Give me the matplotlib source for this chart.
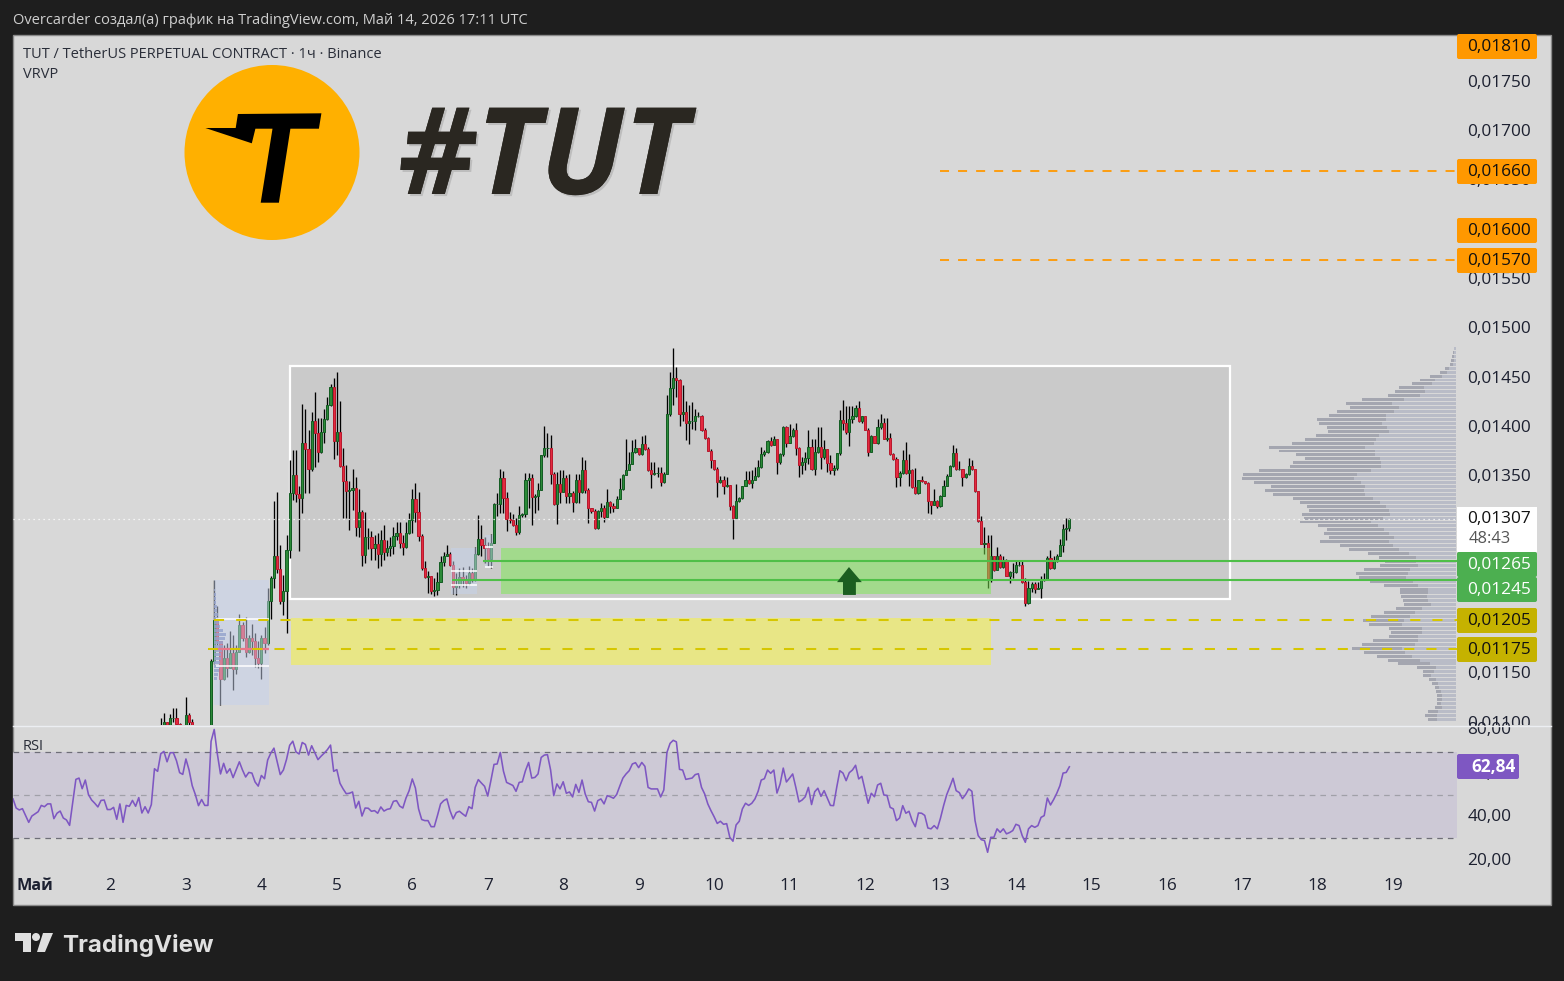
import numpy as np
import matplotlib
matplotlib.use("Agg")
import matplotlib.pyplot as plt
import matplotlib.patheffects as pe
from matplotlib.patches import Rectangle, Ellipse, Polygon, Circle, FancyBboxPatch
from matplotlib.transforms import Bbox, TransformedBbox, ScaledTranslation

plt.rcParams["font.family"] = ["Open Sans", "DejaVu Sans"]

W, H = 1564, 981

# candles, hours since May 1 00:00, prices in 1e-5 USDT, open = previous close
first_hour = 40
close_e5 = [
    1096,1101,1095,1105,1105,1099,1090,1088,1108,1101,
    1095,1090,1088,1085,1082,1080,
    1163,1205,1183,1145,1166,1156,1171,1155,1172,1200,
    1186,1172,1186,1183,1166,1161,1186,1181,1224,1247,
    1269,1256,1224,1234,1276,1333,1352,1332,1328,1384,
    1378,1358,1406,1394,1375,1395,1408,1423,1441,1386,
    1395,1361,1346,1335,1336,1338,1299,1314,1271,1289,
    1289,1278,1282,1272,1286,1274,1278,1280,1290,1293,
    1283,1279,1293,1306,1327,1314,1290,1257,1248,1249,
    1234,1235,1243,1263,1269,1272,1260,1238,1240,1248,
    1245,1242,1252,1245,1272,1287,1281,1278,1266,1283,
    1322,1322,1349,1328,1307,1306,1301,1294,1311,1312,
    1347,1349,1329,1330,1336,1372,1379,1379,1353,1322,
    1343,1334,1349,1330,1333,1324,1347,1334,1357,1336,
    1318,1315,1298,1315,1318,1309,1324,1320,1318,1327,
    1337,1352,1357,1363,1375,1379,1373,1383,1378,1357,
    1353,1354,1354,1345,1353,1414,1440,1450,1448,1414,
    1416,1404,1406,1406,1411,1412,1397,1389,1376,1367,
    1358,1345,1347,1340,1342,1320,1308,1325,1328,1340,
    1347,1344,1347,1351,1360,1373,1375,1386,1382,1388,
    1365,1373,1400,1384,1391,1397,1379,1362,1365,1369,
    1380,1358,1375,1380,1370,1378,1364,1357,1359,1374,
    1407,1404,1395,1408,1412,1420,1406,1411,1397,1375,
    1391,1384,1400,1404,1388,1389,1373,1368,1350,1354,
    1367,1354,1357,1339,1333,1347,1346,1344,1325,1321,
    1325,1320,1330,1340,1351,1361,1374,1358,1358,1350,
    1353,1361,1358,1335,1305,1282,1283,1245,1269,1255,
    1270,1258,1264,1249,1253,1253,1260,1260,1243,1222,
    1237,1241,1236,1237,1245,1246,1267,1257,1264,1270,
    1281,1297,1298,1307,
]
high_e5 = [
    1105,1110,1101,1109,1115,1115,1100,1095,1126,1110,
    1104,1095,1092,1090,1088,1086,
    1165,1245,1219,1183,1179,1181,1193,1189,1179,1211,
    1203,1208,1189,1201,1191,1183,1189,1198,1237,1249,
    1325,1334,1281,1250,1291,1367,1377,1377,1340,1424,
    1419,1397,1416,1436,1409,1409,1419,1431,1444,1450,
    1456,1427,1379,1362,1346,1358,1350,1337,1316,1314,
    1298,1295,1291,1293,1296,1301,1286,1289,1299,1304,
    1304,1291,1304,1313,1337,1344,1334,1292,1264,1254,
    1248,1247,1253,1269,1274,1281,1274,1264,1252,1257,
    1258,1250,1259,1257,1279,1311,1301,1289,1284,1292,
    1323,1333,1358,1356,1334,1314,1312,1308,1320,1313,
    1354,1354,1353,1332,1344,1372,1401,1394,1392,1355,
    1355,1357,1357,1352,1353,1335,1353,1353,1370,1367,
    1338,1318,1317,1316,1323,1321,1337,1325,1323,1330,
    1349,1353,1388,1375,1387,1388,1379,1391,1392,1380,
    1365,1365,1360,1360,1355,1433,1456,1480,1461,1449,
    1443,1427,1423,1426,1419,1416,1413,1399,1390,1378,
    1367,1360,1351,1351,1350,1342,1321,1343,1329,1341,
    1356,1356,1357,1360,1367,1380,1377,1387,1390,1391,
    1388,1374,1401,1401,1403,1399,1404,1380,1370,1375,
    1397,1388,1388,1400,1400,1387,1378,1372,1362,1374,
    1418,1428,1422,1422,1422,1423,1427,1412,1411,1399,
    1392,1391,1408,1414,1409,1409,1394,1374,1370,1356,
    1377,1385,1373,1358,1359,1347,1351,1346,1345,1325,
    1337,1326,1331,1347,1353,1362,1382,1379,1366,1358,
    1354,1369,1367,1358,1335,1310,1299,1291,1291,1269,
    1279,1272,1270,1266,1254,1262,1264,1264,1264,1247,
    1244,1243,1243,1243,1249,1252,1269,1276,1269,1272,
    1287,1302,1308,1308,
]
low_e5 = [
    1090,1092,1090,1094,1101,1095,1085,1082,1085,1097,
    1090,1086,1084,1081,1078,1076,
    1075,1160,1179,1118,1144,1147,1156,1134,1150,1172,
    1183,1167,1171,1169,1157,1156,1145,1171,1179,1206,
    1237,1252,1221,1210,1191,1267,1326,1324,1275,1313,
    1333,1333,1356,1360,1365,1374,1384,1407,1422,1368,
    1372,1360,1308,1308,1296,1316,1290,1289,1259,1262,
    1277,1265,1265,1257,1259,1265,1269,1270,1272,1286,
    1278,1271,1278,1292,1293,1304,1285,1255,1247,1232,
    1231,1229,1230,1243,1259,1269,1259,1231,1230,1237,
    1238,1237,1240,1243,1244,1271,1269,1262,1259,1257,
    1283,1310,1313,1313,1295,1303,1300,1291,1292,1309,
    1309,1318,1301,1313,1316,1336,1370,1370,1343,1321,
    1302,1323,1341,1323,1323,1314,1323,1323,1333,1333,
    1303,1313,1297,1297,1309,1304,1309,1313,1314,1318,
    1327,1336,1352,1357,1363,1374,1372,1372,1377,1356,
    1338,1352,1350,1341,1344,1353,1412,1423,1431,1401,
    1406,1387,1383,1398,1397,1410,1396,1388,1376,1359,
    1357,1329,1344,1332,1339,1316,1287,1309,1324,1327,
    1340,1343,1338,1347,1350,1359,1371,1374,1381,1382,
    1353,1363,1371,1380,1384,1390,1372,1350,1353,1357,
    1363,1357,1352,1374,1358,1368,1355,1353,1352,1357,
    1372,1397,1393,1381,1404,1410,1405,1404,1397,1371,
    1375,1384,1383,1398,1388,1386,1372,1367,1339,1341,
    1353,1353,1341,1338,1332,1332,1345,1343,1313,1312,
    1321,1318,1319,1330,1340,1351,1360,1357,1357,1340,
    1349,1352,1357,1334,1304,1282,1272,1237,1243,1254,
    1255,1257,1257,1249,1242,1247,1252,1259,1242,1219,
    1221,1233,1232,1236,1227,1244,1246,1256,1256,1263,
    1269,1274,1286,1295,
]

# RSI, one value per hour starting at hour -7
rsi_first_hour = -7
rsi_values = [
    48.2,44.0,43.1,43.7,40.5,37.4,40.3,41.3,42.3,45.2,44.6,45.9,45.9,39.1,41.6,42.6,39.4,38.5,36.0,46.6,
    57.2,57.8,52.9,56.9,50.2,47.7,46.2,44.5,47.5,47.7,43.3,43.3,44.3,38.8,45.9,37.4,45.2,44.8,47.5,44.8,
    48.8,41.7,44.6,41.7,45.6,62.1,60.9,69.0,70.1,65.3,69.5,69.5,65.8,60.3,59.5,66.6,61.5,54.3,50.2,45.1,
    47.9,45.2,45.2,74.7,80.2,68.9,59.7,64.6,60.1,62.1,58.0,61.7,65.3,61.5,58.3,60.4,60.1,56.0,54.1,59.0,
    57.5,66.1,69.3,71.6,65.5,59.4,61.5,66.4,72.9,74.8,69.9,68.9,74.2,73.3,68.4,72.7,69.5,66.3,67.9,69.3,
    70.9,73.0,60.9,61.7,55.4,52.8,50.6,50.8,51.4,44.0,47.1,40.3,44.0,43.9,42.5,42.8,41.6,44.5,42.6,43.4,
    43.7,47.1,47.4,44.9,44.0,48.6,52.0,57.4,53.2,43.6,38.7,38.2,38.2,35.4,35.4,40.5,45.9,47.4,48.2,42.8,
    39.0,41.9,42.5,41.3,40.2,44.6,43.7,53.5,57.1,55.5,54.0,49.5,56.6,64.1,64.3,69.6,61.0,55.8,55.1,54.4,
    51.7,55.8,56.1,61.2,65.0,57.8,58.1,59.7,67.3,68.4,68.6,61.5,49.7,55.1,52.8,56.1,50.8,51.4,49.1,54.9,
    51.2,56.9,50.5,46.9,46.6,42.6,47.4,48.2,45.9,49.7,49.2,48.5,50.2,54.1,57.8,59.7,61.2,64.3,64.9,62.6,
    65.0,63.2,53.5,52.8,52.8,52.8,49.1,52.3,69.6,73.8,75.2,74.5,61.8,61.5,57.2,57.5,57.8,59.4,59.8,53.5,
    50.5,45.9,42.8,40.0,36.9,37.9,36.5,36.8,30.5,28.7,36.2,37.9,43.6,46.2,45.2,46.2,48.2,51.7,56.9,57.5,
    61.5,60.0,61.5,50.9,55.1,62.4,56.0,57.8,59.7,53.5,46.8,47.7,49.2,53.5,45.6,51.5,53.1,49.4,52.0,48.6,
    45.2,45.1,53.5,61.2,60.1,56.6,60.3,61.5,63.7,57.4,58.6,52.3,46.2,50.8,49.2,54.6,55.4,50.0,49.8,44.3,
    43.6,38.2,39.4,45.1,41.6,42.5,38.2,35.4,41.7,41.6,40.6,34.8,34.4,35.9,34.4,39.3,45.1,50.2,53.8,57.7,
    52.0,51.1,48.3,50.2,52.8,51.7,38.2,31.3,29.4,29.0,23.6,30.5,30.5,34.4,32.8,34.4,32.1,32.7,33.6,36.5,
    35.9,31.3,28.2,34.4,35.9,35.1,35.9,39.7,40.5,48.6,45.4,47.9,50.8,54.3,60.1,60.4,63.0,
]

# volume profile rows top to bottom, total and the lighter buy part
vp_top_e5 = 1480
vp_step_e5 = 4
vp_total = [
    2,3,4,5,6,11,16,26,36,44,57,61,68,94,110,106,119,127,139,137,129,128,140,151,
    164,187,177,160,151,163,166,197,213,214,202,185,191,183,163,156,149,147,154,152,156,138,
    129,132,127,136,116,107,88,77,71,76,92,100,97,86,72,56,56,55,53,52,60,72,85,93,87,67,
    65,67,83,94,104,92,79,68,58,39,33,33,27,24,21,20,19,19,19,21,28,31,28,
]
vp_light = [
    2,2,2,2,3,7,9,14,21,24,32,31,36,52,64,57,62,70,70,74,69,67,77,80,
    82,91,81,81,76,75,75,85,99,102,95,91,92,91,83,76,70,67,66,73,85,78,
    72,67,62,67,63,57,47,40,40,38,46,48,50,43,38,28,28,29,28,25,34,41,46,52,54,34,
    34,38,38,41,54,51,44,36,26,20,22,25,20,18,17,15,14,14,15,14,18,19,19,
]
# small profile at the left of the first blue box
mini_profile = [1,2,2,2,3,3,4,4,5,6,9,12,11,9,9,8,7,7,6,6,5,4,3]

price_ticks = [1100,1150,1200,1250,1300,1350,1400,1450,1500,1550,1600,1650,1700,1750]
rsi_ticks = [20, 40, 60, 80]
day_labels = ["Май"] + [str(d) for d in range(2, 20)]

box_gray = (81, 380, 1226, 1462)
zone_green = (148.2, 304, 1231, 1277.6)
zone_yellow = (81.3, 304, 1159, 1206.6)
blue_boxes = [(56.8, 74.4, 1118, 1245), (132.3, 140.6, 1231, 1278), (143, 145.7, 1258, 1291)]
green_levels = [(1264.4, 142.5), (1245, 132.6)]
yellow_levels = [(1204.6, 57), (1175, 55)]
orange_levels = [(1660, 288), (1569.7, 288)]
last_price = 1307

hours = first_hour + np.arange(len(close_e5))
close = np.array(close_e5) / 1e5
high = np.array(high_e5) / 1e5
low = np.array(low_e5) / 1e5
opn = np.r_[close[0], close[:-1]]
is_up = close >= opn
rsi_hours = rsi_first_hour + np.arange(len(rsi_values))

fig = plt.figure(figsize=(W / 100, H / 100), dpi=100, facecolor="#1e1e1e")


def axes_px(x0, y0, x1, y1, **kw):
    return fig.add_axes([x0 / W, 1 - y1 / H, (x1 - x0) / W, (y1 - y0) / H], **kw)


bg = axes_px(0, 0, W, H, zorder=0)
bg.set_xlim(0, W); bg.set_ylim(H, 0); bg.axis("off")
bg.add_patch(Rectangle((13, 35), 1538, 870, fc="#d8d8d8", ec="#8a8a8a", lw=1))

xlim = (-7, 452.3)
ylim = (1098.1 / 1e5, 1796.9 / 1e5)

# volume profile sits under the chart
ax_vp = axes_px(13, 36, 1457, 725, zorder=1)
ax_vp.set_xlim(1443, -1)
ax_vp.set_ylim(ylim)
ax_vp.axis("off")
vp_y = (vp_top_e5 - vp_step_e5 * np.arange(len(vp_total))) / 1e5
ax_vp.barh(vp_y, vp_total, height=3e-5, color="#a4a6b0", lw=0)
ax_vp.barh(vp_y, vp_light, height=3e-5, color="#b9bcc7", lw=0)

ax = axes_px(13, 36, 1457, 725, zorder=2)
ax.patch.set_alpha(0)
ax.set_xlim(xlim)
ax.set_ylim(ylim)
for s in ax.spines.values():
    s.set_visible(False)

x0, x1, p0, p1 = box_gray
ax.add_patch(Rectangle((x0, p0 / 1e5), x1 - x0, (p1 - p0) / 1e5, fc="#cacaca", ec="white", lw=1.6, zorder=1))
x0, x1, p0, p1 = zone_yellow
ax.add_patch(Rectangle((x0, p0 / 1e5), x1 - x0, (p1 - p0) / 1e5, fc="#e8e686", lw=0, zorder=1.5))

# candles
ax.vlines(hours, low, high, color="#000000", lw=0.95, zorder=3)
up_color, dn_color = "#2c8a38", "#e32a40"
bottoms = np.minimum(opn, close)
heights = np.abs(close - opn)
ax.bar(hours[is_up], heights[is_up], bottom=bottoms[is_up], width=0.7, color=up_color, edgecolor="#125c22", lw=0.7, zorder=3.2)
ax.bar(hours[~is_up], heights[~is_up], bottom=bottoms[~is_up], width=0.7, color=dn_color, edgecolor="#b8182c", lw=0.7, zorder=3.2)

x0, x1, p0, p1 = zone_green
ax.add_patch(Rectangle((x0, p0 / 1e5), x1 - x0, (p1 - p0) / 1e5, fc="#7cea50", alpha=0.5, lw=0, zorder=4))

for x0, x1, p0, p1 in blue_boxes:
    ax.add_patch(Rectangle((x0, p0 / 1e5), x1 - x0, (p1 - p0) / 1e5, fc="#c6d2ec", alpha=0.5, lw=0, zorder=4))
mini_y = (1235 - 4.06 * np.arange(len(mini_profile))) / 1e5
ax.barh(mini_y, np.array(mini_profile) / 3.144, left=56.8, height=3e-5, color="#94a2cc", alpha=0.8, lw=0, zorder=4.1)
ax.hlines([1205.6 / 1e5, 1158 / 1e5], 57.5, 74.4, color="white", lw=1.1, zorder=4.2)
ax.hlines([1175 / 1e5], 57, 74.4, color="#e8788a", lw=1.6, zorder=4.2)
ax.hlines([1254 / 1e5, 1240 / 1e5], 132.3, 140.6, color="white", lw=1.1, zorder=4.2)
ax.hlines([1279 / 1e5, 1258 / 1e5], 143.2, 145.7, color="white", lw=1.1, zorder=4.2)

# levels
ax.axhline(last_price / 1e5, color="white", lw=0.9, ls=(0, (1, 3)), zorder=4.5)
for p, h0 in green_levels:
    ax.hlines(p / 1e5, h0, xlim[1], color="#4fbf48", lw=1.5, zorder=5)
for p, h0 in yellow_levels:
    ax.plot([h0, xlim[1]], [p / 1e5, p / 1e5], color="#d6c600", lw=1.45, ls=(0, (5, 6)), dash_capstyle="butt", zorder=5)
for p, h0 in orange_levels:
    ax.plot([h0, xlim[1]], [p / 1e5, p / 1e5], color="#ff9800", lw=1.3, ls=(0, (5, 5)), dash_capstyle="butt", zorder=5)

# up arrow on the green zone
ax.add_patch(Polygon([(258.9, 1258.3e-5), (263, 1243e-5), (261.1, 1243e-5), (261.1, 1230e-5),
                      (257, 1230e-5), (257, 1243e-5), (255.1, 1243e-5)], fc="#1b5e20", lw=0, zorder=6))

tick_font = dict(fontsize=12.4, color="#1c2030", fontweight="medium")
ax.set_xticks([])
ax.yaxis.tick_right()
ax.set_yticks([p / 1e5 for p in price_ticks])
ax.set_yticklabels([f"{p / 1e5:.5f}".replace(".", ",") for p in price_ticks], va="center_baseline", **tick_font)
ax.tick_params(axis="y", length=0, pad=7.5)

# RSI pane
rs = axes_px(13, 726, 1457, 872, zorder=2)
rs.patch.set_alpha(0)
rs.set_xlim(xlim)
rs.set_ylim((795 - 872) / 2.17 + 50, (795 - 726) / 2.17 + 50)
for s in rs.spines.values():
    s.set_visible(False)
rs.axhspan(30, 70, color="#cdc9d6", lw=0, zorder=1)
rs.axhline(70, color="#6e6e78", lw=0.9, ls=(0, (4.5, 4)), zorder=2)
rs.axhline(50, color="#a0a0a8", lw=0.9, ls=(0, (4.5, 4)), zorder=2)
rs.axhline(30, color="#6e6e78", lw=0.9, ls=(0, (4.5, 4)), zorder=2)
rs.plot(rsi_hours, rsi_values, color="#7e57c2", lw=1.15, zorder=3)
rs.yaxis.tick_right()
rs.set_yticks(rsi_ticks)
rs.set_yticklabels([f"{v:.2f}".replace(".", ",") for v in rsi_ticks], va="center_baseline", **tick_font)
rs.tick_params(axis="y", length=0, pad=7.5)
rs.set_xticks(np.arange(len(day_labels)) * 24)
rs.set_xticklabels(day_labels, **tick_font)
rs.tick_params(axis="x", length=0, pad=4)
rs.get_xticklabels()[0].set_fontweight("bold")
rs.get_xticklabels()[0].set_fontsize(11.6)

# tick labels sit a little higher than matplotlib centres them
lift = ScaledTranslation(0, 0.015, fig.dpi_scale_trans)
clip = Bbox.from_extents(1450 / W, (H - 725) / H, 1, 1)
for lab in ax.get_yticklabels():
    lab.set_transform(lab.get_transform() + lift)
    lab.set_clip_on(True)
    lab.set_clip_box(TransformedBbox(clip, fig.transFigure))
for lab in rs.get_yticklabels():
    lab.set_transform(lab.get_transform() + lift)

# overlay in pixel coordinates: logo, header, price tags
ov = axes_px(0, 0, W, H, zorder=5)
ov.set_xlim(0, W); ov.set_ylim(H, 0); ov.axis("off"); ov.patch.set_alpha(0)

ov.plot([13, 1551], [725.5, 725.5], color="#eceef2", lw=1)
ov.text(13, 20.5, "Overcarder создал(а) график на TradingView.com, Май 14, 2026 17:11 UTC",
        color="#cfcfcf", fontsize=10.5, va="center", ha="left")
ov.text(23, 54.5, "TUT / TetherUS PERPETUAL CONTRACT · 1ч · Binance", color="#2a2e39", fontsize=10.5, va="center")
ov.text(23, 74.5, "VRVP", color="#2a2e39", fontsize=10.5, va="center")
ov.text(23, 746.5, "RSI", color="#2a2e39", fontsize=10.5, va="center")

ov.add_patch(Ellipse((272, 152.5), 175, 175, fc="#ffb000", lw=0))
ov.add_patch(Polygon([(237.9, 114), (321.4, 113.3), (318.9, 128.7), (290.4, 128.7), (278.9, 202.7), (260.7, 202.7),
                      (272.5, 128.7), (255.4, 128.7), (251.8, 143.3), (205.4, 128), (235.7, 128)], fc="black", lw=0))
tut = ov.text(398, 194, "#TUT", color="#2a2721", fontsize=87, fontweight="bold", fontstyle="italic", va="baseline", ha="left")
tut.set_path_effects([pe.withSimplePatchShadow(offset=(1.5, -1.5), alpha=0.12, shadow_rgbFace="#000000"), pe.Normal()])


def tag(y0, y1, text, fc, tc, x1=1537, weight="medium"):
    ov.add_patch(FancyBboxPatch((1457, y0), x1 - 1457, y1 - y0, boxstyle="round,pad=0,rounding_size=2",
                                fc=fc, lw=0))
    ov.text(1499.5 if x1 == 1537 else 1494, (y0 + y1) / 2 + 0.5, text, color=tc, fontsize=12.4, va="center", ha="center", fontweight=weight)


orange = "#ff9800"
tag(34, 59, "0,01810", orange, "#111111")
tag(159, 184, "0,01660", orange, "#111111")
tag(218, 243, "0,01600", orange, "#111111")
tag(248, 273, "0,01570", orange, "#111111")
ov.add_patch(Rectangle((1457, 507), 80, 45, fc="white", lw=0))
ov.text(1499.5, 519, "0,01307", color="#111111", fontsize=12.4, va="center", ha="center", fontweight="medium")
ov.text(1490, 539, "48:43", color="#555555", fontsize=11.8, va="center", ha="center")
tag(552, 577, "0,01265", "#4caf50", "white")
tag(577, 602, "0,01245", "#4caf50", "white")
tag(608, 633, "0,01205", "#c5b200", "#111111")
tag(637, 662, "0,01175", "#c5b200", "#111111")
tag(754, 779, "62,84", "#7e57c2", "white", x1=1519, weight="bold")

# TradingView mark
ov.add_patch(Polygon([(15, 933), (31, 933), (31, 952), (23, 952), (23, 941), (15, 941)], fc="#e0e0e0", lw=0))
ov.add_patch(Circle((36, 937), 4, fc="#e0e0e0", lw=0))
ov.add_patch(Polygon([(43, 933), (53, 933), (45, 952), (37, 952)], fc="#e0e0e0", lw=0))
ov.text(62, 952, "TradingView", color="#e0e0e0", fontsize=17.4, fontfamily="Inter", fontweight="bold", va="baseline")

fig.savefig("out.png", dpi=100, facecolor=fig.get_facecolor())
